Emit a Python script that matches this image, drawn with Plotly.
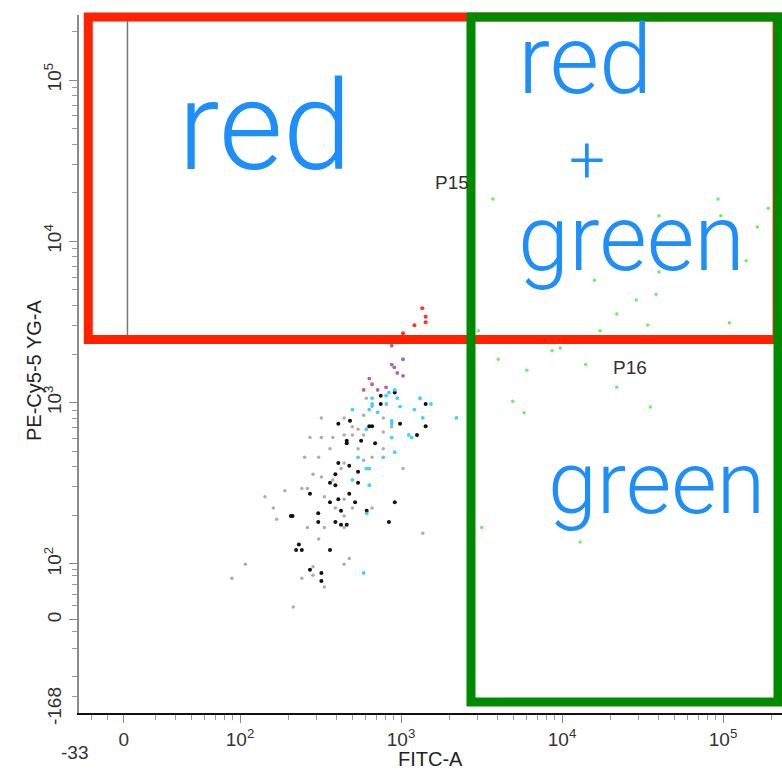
import math
import plotly.graph_objects as go

# ---------------- data (FITC-A, PE-Cy5-5 YG-A intensities) ----------------
gray_x = [320, 443, 586, 661, 776, 609, 499, 541, 443, 499, 586, 320, 272, 377, 776, 875, 362, 541, 776, 308,
          252, 443, 586, 661, 1029, 424, 284, 320, 377, 242, 262, 190, 143, 334, 443, 391, 499, 661, 161, 169,
          443, 262, 334, 443, 308, 1365, 108, 89, 443, 477, 284, 284, 242, 334, 214]
gray_y = [804, 804, 836, 945, 804, 1065, 710, 684, 631, 631, 631, 607, 607, 607, 658, 710, 517, 517, 517, 458,
          458, 423, 440, 458, 390, 390, 360, 346, 332, 294, 294, 284, 261, 261, 252, 222, 222, 222, 222, 189,
          198, 168, 168, 168, 143, 155, 99.6, 81.5, 99.6, 108, 96, 85, 81.5, 72, 54]

black_x = [914, 748, 1422, 748, 408, 482, 986, 1422, 635, 661, 460, 460, 565, 690, 1256, 408, 477, 541, 391, 362,
           391, 541, 272, 477, 408, 362, 518, 914, 306, 424, 612, 207, 212, 306, 391, 424, 460, 841, 232, 223,
           242, 362, 272, 320, 320]
black_y = [1154, 1105, 981, 981, 741, 771, 741, 714, 714, 714, 581, 560, 581, 560, 631, 423, 406, 373, 360, 319,
           308, 319, 272, 272, 252, 241, 241, 241, 206, 214, 214, 198, 198, 182, 182, 175, 175, 182, 132, 122,
           122, 122, 92, 88, 78.5]

cyan_x = [499, 661, 661, 807, 841, 914, 948, 811, 716, 635, 986, 1312, 1535, 1211, 1365, 2208, 875, 875, 609, 1117,
          1164, 875, 914, 541, 776, 609, 635, 499, 635, 612, 586]
cyan_y = [906, 1065, 981, 1105, 1154, 1199, 1065, 981, 871, 906, 945, 1065, 981, 906, 804, 804, 771, 741, 684, 631,
          607, 607, 494, 458, 458, 390, 390, 332, 308, 206, 88]

purple_x = [875, 1029, 875, 908, 948, 1029, 635, 661, 716, 807, 586]
purple_y = [2254, 1858, 1722, 1656, 1528, 1466, 1409, 1300, 1199, 1245, 1199]

red_x = [1355, 1422, 1422, 1211, 1029]
red_y = [3846, 3413, 3148, 3020, 2692]

green_x = [3715, 93070, 190900, 40000, 96830, 163300, 139000, 40000, 15890, 38370, 28910, 21880, 34040, 109400,
           17220, 3020, 8670, 9750, 4018, 6040, 14030, 21880, 4943, 5808, 35320, 3170, 12940]
green_y = [18320, 18320, 16030, 14430, 14430, 12280, 7590, 6457, 5740, 4700, 4335, 3549, 3034, 3133,
           2786, 2786, 2099, 2183, 1858, 1589, 1722, 1245, 1020, 867, 940, 168, 137]

# axis ticks (display position of the "0" on the log display)
x_tick_vals = [19, 100, 1000, 10000, 100000]
x_tick_text = ["0", "10<sup>2</sup>", "10<sup>3</sup>", "10<sup>4</sup>", "10<sup>5</sup>"]
y_tick_vals = [45, 100, 1000, 10000, 100000]
y_tick_text = ["0", "10<sup>2</sup>", "10<sup>3</sup>", "10<sup>4</sup>", "10<sup>5</sup>"]
x_minor = [12, 15, 30, 40, 50, 60, 70, 80, 90] + [m * 10 ** k for k in (2, 3, 4) for m in range(2, 10)] + [200000]
y_minor = [15, 20, 30, 38, 55, 65, 75, 85, 92] + [m * 10 ** k for k in (2, 3, 4) for m in range(2, 10)] + [200000]
x_min_label, y_min_label = "-33", "-168"

# gates (data units)
p15_gate = dict(x0=20, x1=2690, y0=2590, y1=400000)
p15_label = (2075, 23000)
p16_label = (26400, 1660)

# ---------------- figure ----------------
fig = go.Figure()


def add(xs, ys, color, size=4.0, opacity=1.0):
    fig.add_trace(go.Scatter(x=xs, y=ys, mode="markers", hoverinfo="skip", showlegend=False,
                             marker=dict(color=color, size=size, opacity=opacity, line=dict(width=0))))


add(gray_x, gray_y, "#8a8a8a", 3.5, 0.7)
add(black_x, black_y, "#111111", 4)
add(cyan_x, cyan_y, "#22c8ff", 3.8, 0.85)
add(purple_x, purple_y, "#9a3a9a", 3.8, 0.8)
add(red_x, red_y, "#ff1a1a", 4, 0.9)
add(green_x, green_y, "#33ee33", 3.5, 0.75)

FONT = "Liberation Sans, Arial, sans-serif"
tickfont = dict(family=FONT, size=19, color="#333333")

fig.update_xaxes(type="log", range=[1.0, 5.366], showgrid=False, zeroline=False, automargin=False,
                 showline=True, linecolor="#111111", linewidth=2,
                 ticks="outside", ticklen=8, tickwidth=1, tickcolor="#888888",
                 tickvals=x_tick_vals, ticktext=x_tick_text, tickfont=tickfont,
                 minor=dict(tickvals=x_minor, ticks="outside", ticklen=5, tickwidth=1,
                            tickcolor="#999999", showgrid=False))
fig.update_yaxes(type="log", range=[1.076, 5.403], showgrid=False, zeroline=False, automargin=False,
                 showline=True, linecolor="#8c8c8c", linewidth=2,
                 ticks="outside", ticklen=8, tickwidth=1, tickcolor="#888888",
                 tickvals=y_tick_vals, ticktext=y_tick_text, tickfont=tickfont, tickangle=-90,
                 minor=dict(tickvals=y_minor, ticks="outside", ticklen=5, tickwidth=1,
                            tickcolor="#999999", showgrid=False))

shapes = [
    dict(type="rect", xref="x", yref="y", **p15_gate, line=dict(color="#777777", width=1.5), layer="below"),
    # hand-drawn boxes (paper coordinates of the plot area)
    dict(type="rect", xref="paper", yref="paper", x0=0.0132, x1=0.993, y0=0.535, y1=0.997,
         line=dict(color="#ff2200", width=9), layer="above"),
    dict(type="rect", xref="paper", yref="paper", x0=0.5576, x1=0.9943, y0=0.0158, y1=0.997,
         line=dict(color="#008a00", width=9), layer="above"),
]

labfont = dict(family=FONT, size=19, color="#333333")
hand = "#1e8ffa"


def hfont(s):
    return dict(family="Roboto, Liberation Sans, sans-serif", size=s, color=hand, weight=300)


def ann(**kw):
    base = dict(showarrow=False, xanchor="center", yanchor="middle")
    base.update(kw)
    return base


annotations = [
    ann(xref="x", yref="y", x=math.log10(p15_label[0]), y=math.log10(p15_label[1]), text="P15", font=labfont),
    ann(xref="x", yref="y", x=math.log10(p16_label[0]), y=math.log10(p16_label[1]), text="P16", font=labfont),
    ann(xref="paper", yref="paper", x=0, y=0, xshift=-5, yshift=-39, text=x_min_label, font=tickfont),
    ann(xref="paper", yref="paper", x=0, y=0.01, xshift=-25, text=y_min_label, textangle=-90, font=tickfont),
    ann(xref="paper", yref="paper", x=0.5, y=0, yshift=-46, text="FITC-A",
        font=dict(family=FONT, size=20, color="#222222")),
    ann(xref="paper", yref="paper", x=0, y=0.49, xshift=-45, text="PE-Cy5-5 YG-A", textangle=-90,
        font=dict(family=FONT, size=20, color="#222222")),
    # handwriting
    ann(xref="paper", yref="paper", x=0.2646, y=0.84, text="red", font=hfont(124)),
    ann(xref="paper", yref="paper", x=0.72, y=0.935, text="red", font=hfont(96)),
    ann(xref="paper", yref="paper", x=0.7226, y=0.792, text="+", font=hfont(64)),
    ann(xref="paper", yref="paper", x=0.786, y=0.68, text="green", font=hfont(92)),
    ann(xref="paper", yref="paper", x=0.822, y=0.33, text="green", font=hfont(88)),
]

fig.update_layout(width=782, height=769, margin=dict(l=79, r=0, t=15, b=56),
                  plot_bgcolor="white", paper_bgcolor="white", showlegend=False,
                  shapes=shapes, annotations=annotations)

fig.write_html("out.html", config={"displayModeBar": False},
               post_script="document.body.style.margin='0px';")
